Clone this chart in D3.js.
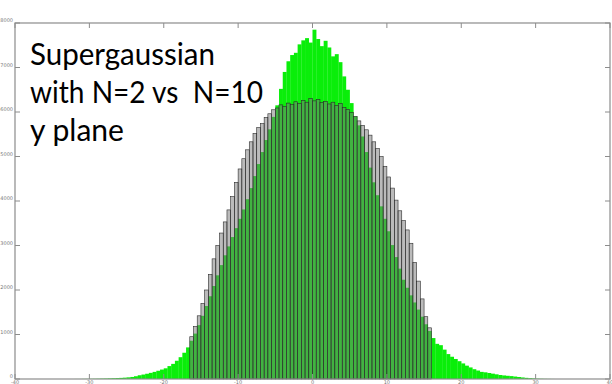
<!DOCTYPE html>
<html>
<head>
<meta charset="utf-8">
<script src="https://cdn.jsdelivr.net/npm/d3@7"></script>
<style>
  body { margin: 0; background: #fff; }
  svg { display: block; }
</style>
</head>
<body>
<div id="chart"></div>
<script>
// bin layout (histogram bin width 0.5)
const binWidth = 0.5;
const greenStart = -33;   // left edge of first green bin
const greyStart = -17;    // left edge of first grey bin

// N=10 counts (green), -33 .. 33
const greenCounts = [
  0, 0, 1, 1, 2, 3, 4, 5, 7, 9, 11, 14, 17, 21, 25, 30,
  37, 46, 62, 84, 100, 118, 138, 160, 185, 212, 240, 290, 340, 410, 490, 590,
  710, 860, 1020, 1210, 1420, 1640, 1860, 2090, 2330, 2560, 2780, 2980, 3190, 3390, 3600, 3810,
  4040, 4290, 4560, 4830, 5100, 5370, 5610, 5890, 6150, 6520, 6900, 7140, 7280, 7330, 7520, 7610,
  7660, 7560, 7850, 7640, 7480, 7600, 7450, 7250, 7300, 7120, 6800, 6500, 6200, 5900, 5700, 5450,
  5100, 4750, 4420, 4130, 3880, 3600, 3320, 3010, 2740, 2480, 2230, 2050, 1880, 1720, 1560, 1400,
  1230, 1080, 920, 790, 760, 660, 560, 500, 450, 400, 350, 300, 260, 220, 190, 160,
  150, 135, 120, 105, 90, 80, 72, 65, 55, 45, 35, 26, 18, 12, 8, 5,
  3, 2, 1, 0
];

// N=2 counts (grey), -17 .. 17
const greyCounts = [
  0, 950, 1180, 1420, 1700, 2000, 2350, 2700, 3000, 3280, 3530, 3800, 4100, 4420, 4720, 4950,
  5150, 5330, 5520, 5650, 5740, 5880, 5960, 6050, 6090, 6160, 6120, 6200, 6170, 6230, 6190, 6260,
  6220, 6300, 6250, 6280, 6210, 6240, 6180, 6220, 6150, 6190, 6100, 6060, 5990, 5900, 5800, 5700,
  5600, 5480, 5330, 5180, 5000, 4780, 4540, 4290, 4020, 3780, 3560, 3350, 3050, 2620, 2200, 1800,
  1400, 1150, 0, 0
];

const xTicks = [-40, -30, -20, -10, 0, 10, 20, 30, 40];
const yTicks = [0, 1000, 2000, 3000, 4000, 5000, 6000, 7000, 8000];
const titleLines = ['Supergaussian', 'with N=2 vs  N=10', 'y plane'];
const titleWidths = [185, 233, 94];   // measured line lengths in the picture

const width = 612, height = 384;
const plot = {left: 15, right: 610, top: 23, bottom: 379};

const svg = d3.select('#chart').append('svg')
  .attr('width', width)
  .attr('height', height);

const x = d3.scaleLinear().domain([-40, 40]).range([plot.left, plot.right]);
const y = d3.scaleLinear().domain([0, 8000]).range([plot.bottom, plot.top]);
const bw = x(binWidth) - x(0);

// green histogram underneath
svg.append('g')
  .selectAll('rect')
  .data(greenCounts)
  .join('rect')
  .attr('x', (d, i) => x(greenStart + i * binWidth))
  .attr('y', d => y(d))
  .attr('width', bw + 0.2)
  .attr('height', d => y(0) - y(d))
  .attr('fill', 'rgb(10,238,10)');

// grey histogram on top, see-through
svg.append('g')
  .selectAll('rect')
  .data(greyCounts)
  .join('rect')
  .attr('x', (d, i) => x(greyStart + i * binWidth))
  .attr('y', d => y(d))
  .attr('width', bw)
  .attr('height', d => y(0) - y(d))
  .attr('fill', 'rgba(120,120,120,0.5)')
  .attr('stroke', d => d > 0 ? '#2a2a2a' : 'none')
  .attr('stroke-width', 0.6);

// frame with inward ticks (matlab box)
const axisColor = '#8c8c8c';
const tickLen = 5;
svg.append('rect')
  .attr('x', plot.left).attr('y', plot.top)
  .attr('width', plot.right - plot.left)
  .attr('height', plot.bottom - plot.top)
  .attr('fill', 'none')
  .attr('stroke', axisColor)
  .attr('stroke-width', 1.2);

const ticks = svg.append('g').attr('stroke', axisColor).attr('stroke-width', 1);
ticks.selectAll('.xb').data(xTicks).join('line').attr('class', 'xb')
  .attr('x1', d => x(d)).attr('x2', d => x(d))
  .attr('y1', plot.bottom).attr('y2', plot.bottom - tickLen);
ticks.selectAll('.xt').data(xTicks).join('line').attr('class', 'xt')
  .attr('x1', d => x(d)).attr('x2', d => x(d))
  .attr('y1', plot.top).attr('y2', plot.top + tickLen);
ticks.selectAll('.yl').data(yTicks).join('line').attr('class', 'yl')
  .attr('x1', plot.left).attr('x2', plot.left + tickLen)
  .attr('y1', d => y(d)).attr('y2', d => y(d));
ticks.selectAll('.yr').data(yTicks).join('line').attr('class', 'yr')
  .attr('x1', plot.right).attr('x2', plot.right - tickLen)
  .attr('y1', d => y(d)).attr('y2', d => y(d));

// tiny tick labels
const labels = svg.append('g')
  .attr('font-family', 'DejaVu Sans, sans-serif')
  .attr('font-size', 5)
  .attr('fill', '#777');
labels.selectAll('.ylab').data(yTicks).join('text').attr('class', 'ylab')
  .attr('x', plot.left - 2)
  .attr('y', d => y(d) - 0.8)
  .attr('text-anchor', 'end')
  .text(d => d);
labels.selectAll('.xlab').data(xTicks).join('text').attr('class', 'xlab')
  .attr('x', d => x(d))
  .attr('y', height + 0.4)
  .attr('text-anchor', 'middle')
  .text(d => d);

// annotation
svg.append('g')
  .attr('font-family', 'Lato, sans-serif')
  .attr('font-size', 30)
  .attr('fill', '#000')
  .selectAll('text')
  .data(titleLines)
  .join('text')
  .attr('x', 30)
  .attr('y', (d, i) => 65 + i * 38)
  .attr('textLength', (d, i) => titleWidths[i])
  .attr('lengthAdjust', 'spacingAndGlyphs')
  .style('white-space', 'pre')
  .text(d => d);
</script>
</body>
</html>
